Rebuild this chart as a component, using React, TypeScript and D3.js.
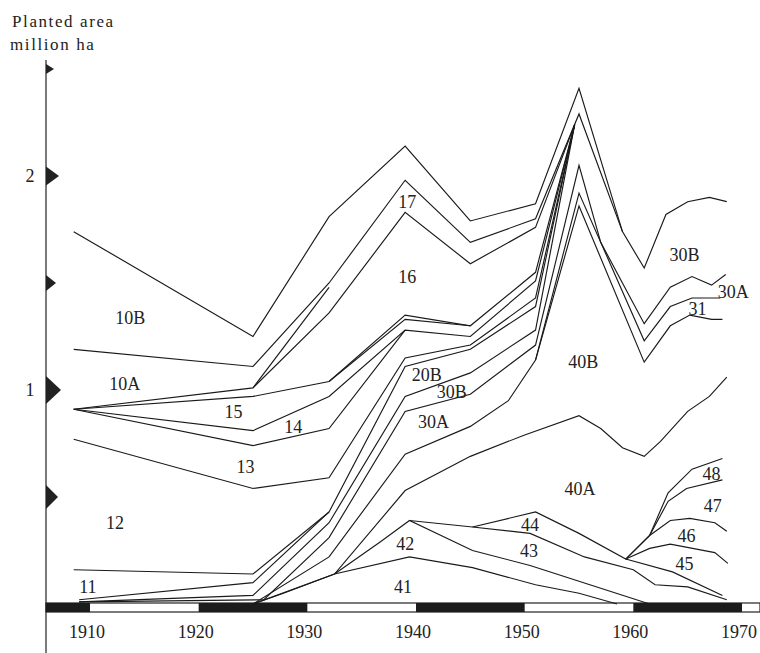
import React from 'react';
import * as d3 from 'd3';

type Pt = [number, number];

// boundary lines between the bands, [year, million ha]
const outerTop: Pt[] = [[1908.5, 1.74], [1925, 1.25], [1932, 1.81], [1939, 2.14], [1945, 1.79], [1951, 1.87], [1955, 2.41], [1959, 1.74], [1961, 1.57], [1963, 1.82], [1965, 1.88], [1967, 1.9], [1968.6, 1.88]];
const bottom10B: Pt[] = [[1908.5, 1.19], [1925, 1.11], [1932, 1.5], [1939, 1.98], [1945, 1.69], [1951, 1.8], [1955, 2.29], [1959, 1.74]];
const bottom10A: Pt[] = [[1908.5, 0.91], [1925, 1.01], [1932, 1.48]];
const top16: Pt[] = [[1925, 1.01], [1932, 1.36], [1939, 1.83], [1945, 1.59], [1951, 1.76], [1954.6, 2.24]];
const top15: Pt[] = [[1908.5, 0.91], [1925, 0.97], [1932, 1.04], [1939, 1.35], [1945, 1.3], [1951, 1.55], [1954.6, 2.24]];
const wedge15: Pt[] = [[1932, 1.04], [1939, 1.33], [1945, 1.3]];
const top14: Pt[] = [[1908.5, 0.91], [1925, 0.81], [1932, 0.97], [1939, 1.28], [1945, 1.25], [1951, 1.51], [1954.6, 2.24]];
const top13: Pt[] = [[1908.5, 0.91], [1925, 0.74], [1932, 0.82], [1939, 1.28]];
const top12: Pt[] = [[1908.5, 0.77], [1925, 0.54], [1932, 0.59], [1939, 1.15], [1945, 1.21], [1951, 1.43], [1954.6, 2.24]];
const bottom12: Pt[] = [[1908.5, 0.16], [1925, 0.14], [1932, 0.43]];
const top20B: Pt[] = [[1909, 0.02], [1925, 0.1], [1932, 0.43], [1939, 1.11], [1945, 1.19], [1951, 1.39], [1954.6, 2.24]];
const top30B: Pt[] = [[1909, 0.01], [1925, 0.04], [1932, 0.38], [1939, 0.97], [1945, 1.08], [1951, 1.28], [1954.6, 2.24]];
const top30A: Pt[] = [[1909, 0.01], [1926, 0.02], [1932, 0.31], [1939, 0.9], [1945, 0.98], [1951, 1.21], [1955, 2.05], [1957, 1.69], [1961, 1.31], [1963.4, 1.48], [1965.4, 1.53], [1967.2, 1.49], [1968.5, 1.54]];
const top31: Pt[] = [[1951, 1.14], [1955, 1.92], [1961, 1.23], [1963.4, 1.39], [1965.4, 1.43], [1968, 1.43]];
const top40B: Pt[] = [[1925, 0], [1932, 0.22], [1939, 0.7], [1945, 0.83], [1948.5, 0.95], [1951, 1.14], [1955, 1.86], [1961, 1.13], [1963.4, 1.3], [1965.2, 1.35], [1967.2, 1.33], [1968.2, 1.33]];
const top40A: Pt[] = [[1925, 0], [1932.5, 0.14], [1939, 0.53], [1945, 0.69], [1950, 0.79], [1955, 0.88], [1957, 0.82], [1959, 0.73], [1961, 0.69], [1962.5, 0.76], [1965, 0.9], [1967, 0.97], [1968.6, 1.06]];
const top41: Pt[] = [[1925, 0], [1927.8, 0.05], [1932.5, 0.14], [1939.4, 0.22], [1945.2, 0.17], [1951, 0.09], [1955, 0.05], [1958.5, 0]];
const top42: Pt[] = [[1932.5, 0.14], [1936.7, 0.29], [1939.4, 0.39], [1945.2, 0.25], [1950.5, 0.18], [1956, 0.09], [1961.5, 0]];
const top43: Pt[] = [[1939.4, 0.39], [1945.2, 0.36], [1950.5, 0.33], [1955.5, 0.22], [1960, 0.16], [1962, 0.09], [1965, 0.08], [1968.6, 0.02]];
const top44: Pt[] = [[1945.2, 0.36], [1951, 0.43], [1955, 0.33], [1959.3, 0.21], [1961.5, 0.32], [1963.2, 0.52], [1965.4, 0.63], [1968.2, 0.68]];
const top47: Pt[] = [[1961.5, 0.32], [1963.2, 0.48], [1964.9, 0.54], [1968.2, 0.58]];
const top46: Pt[] = [[1959.3, 0.21], [1961.5, 0.32], [1963.4, 0.39], [1965.2, 0.4], [1967.5, 0.38], [1968.6, 0.34]];
const top45: Pt[] = [[1959.3, 0.21], [1961.5, 0.26], [1963.4, 0.28], [1967.5, 0.24], [1968.7, 0.19]];
const bottom45: Pt[] = [[1959.3, 0.21], [1963.6, 0.15], [1968.2, 0.04]];

const boundaryLines = [
  outerTop, bottom10B, bottom10A, top16, top15, wedge15, top14, top13, top12, bottom12,
  top20B, top30B, top30A, top31, top40B, top40A, top41, top42, top43, top44,
  top47, top46, top45, bottom45,
];

const bandLabels = [
  { text: '10B', year: 1913.7, value: 1.34 },
  { text: '10A', year: 1913.2, value: 1.03 },
  { text: '15', year: 1923.2, value: 0.9 },
  { text: '14', year: 1928.7, value: 0.83 },
  { text: '13', year: 1924.3, value: 0.64 },
  { text: '12', year: 1912.3, value: 0.38 },
  { text: '11', year: 1909.8, value: 0.08 },
  { text: '17', year: 1939.2, value: 1.88 },
  { text: '16', year: 1939.2, value: 1.53 },
  { text: '20B', year: 1941.0, value: 1.07 },
  { text: '30B', year: 1943.3, value: 0.99 },
  { text: '30A', year: 1941.6, value: 0.85 },
  { text: '40B', year: 1955.4, value: 1.13 },
  { text: '40A', year: 1955.1, value: 0.54 },
  { text: '42', year: 1939.0, value: 0.28 },
  { text: '41', year: 1938.8, value: 0.08 },
  { text: '44', year: 1950.5, value: 0.37 },
  { text: '43', year: 1950.4, value: 0.25 },
  { text: '30B', year: 1964.7, value: 1.63 },
  { text: '30A', year: 1969.2, value: 1.46 },
  { text: '31', year: 1965.9, value: 1.38 },
  { text: '48', year: 1967.2, value: 0.61 },
  { text: '47', year: 1967.3, value: 0.46 },
  { text: '46', year: 1964.9, value: 0.32 },
  { text: '45', year: 1964.7, value: 0.19 },
];

const yearTicks = [1910, 1920, 1930, 1940, 1950, 1960, 1970];
const axisMarks = [0.5, 1, 1.5, 2, 2.5];
const axisLabels = [1, 2];

const serif = '"Liberation Serif", "Times New Roman", "DejaVu Serif", serif';
const txt = { fontFamily: serif };

export default function App() {
  const x = d3.scaleLinear().domain([1910, 1970]).range([90, 742]);
  const y = d3.scaleLinear().domain([0, 1]).range([604, 390]);
  const axisX = 46;

  const lineGen = d3
    .line<Pt>()
    .x((d) => x(d[0]))
    .y((d) => y(d[1]));

  // size of the axis pointers [width, height]
  const markSize = (v: number): [number, number] => {
    if (v === 1) return [15, 28];
    if (v === 0.5) return [12, 24];
    if (v === 2) return [13, 19];
    if (v === 1.5) return [10, 16];
    return [8, 10];
  };

  // decade bar under the plot
  const barTop = 603;
  const barH = 9;
  const barStart = x.invert(axisX);
  const decades = d3.range(1900, 1980, 10).map((d) => ({
    from: Math.max(d, barStart),
    to: d + 10,
    dark: (d / 10) % 2 === 0,
  }));

  return (
    <svg
      width={760}
      height={653}
      style={{ position: 'absolute', left: 0, top: 0, background: '#fff' }}
    >
      <text x={12} y={27} fontSize={17} letterSpacing={1.6} fill="#222" style={txt}>
        Planted area
      </text>
      <text x={10} y={50} fontSize={17} letterSpacing={1.6} fill="#222" style={txt}>
        million ha
      </text>

      {/* y axis */}
      <line x1={axisX} x2={axisX} y1={60} y2={653} stroke="#222" strokeWidth={1.2} />
      {axisMarks.map((v) => {
        const [w, h] = markSize(v);
        const cy = y(v);
        return (
          <path
            key={v}
            d={`M${axisX},${cy - h / 2}L${axisX + w},${cy}L${axisX},${cy + h / 2}Z`}
            fill="#222"
          />
        );
      })}
      {axisLabels.map((v) => (
        <text key={v} x={30} y={y(v)} dy="0.35em" fontSize={18} textAnchor="middle" fill="#222" style={txt}>
          {v}
        </text>
      ))}

      {/* decade bar */}
      <rect x={axisX} y={barTop} width={760 - axisX} height={barH} fill="#fff" stroke="#222" strokeWidth={1.2} />
      {decades
        .filter((d) => d.dark)
        .map((d) => (
          <rect
            key={d.from}
            x={x(d.from)}
            y={barTop}
            width={x(d.to) - x(d.from)}
            height={barH}
            fill="#1c1c1c"
          />
        ))}
      {yearTicks.map((t) => (
        <text key={t} x={x(t) - 3} y={638} fontSize={18} textAnchor="middle" fill="#222" style={txt}>
          {t}
        </text>
      ))}

      {/* boundary lines */}
      {boundaryLines.map((pts, i) => (
        <path
          key={i}
          d={lineGen(pts) || ''}
          fill="none"
          stroke="#1a1a1a"
          strokeWidth={1.15}
          strokeLinejoin="miter"
        />
      ))}

      {bandLabels.map((l, i) => (
        <text
          key={i}
          x={x(l.year)}
          y={y(l.value)}
          dy="0.35em"
          fontSize={18}
          textAnchor="middle"
          fill="#222"
          style={txt}
        >
          {l.text}
        </text>
      ))}
    </svg>
  );
}
